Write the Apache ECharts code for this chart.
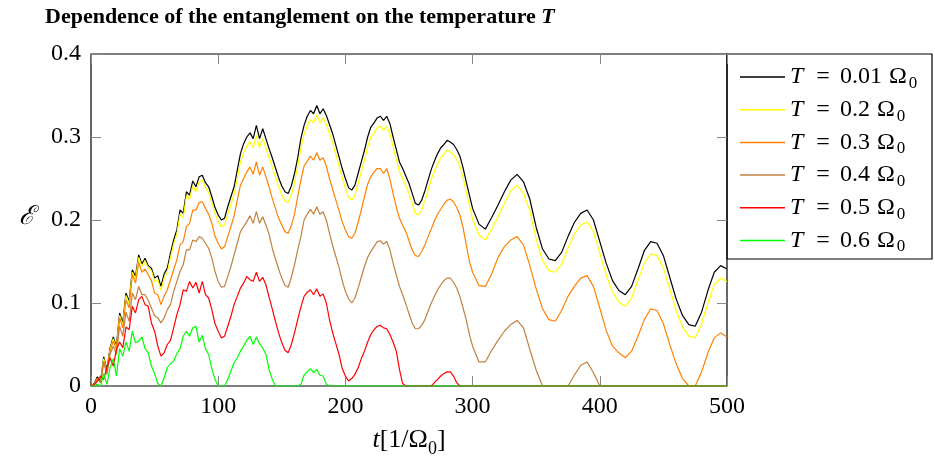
<!DOCTYPE html>
<html><head><meta charset="utf-8">
<script src="https://cdn.jsdelivr.net/npm/echarts@6/dist/echarts.min.js"></script>
<style>html,body{margin:0;padding:0;background:#fff}#c{width:935px;height:463px}</style>
</head><body><div id="c"></div>
<script>
// time grid t [1/Omega0]
const tValues = [0,2.5,5,7.5,10,12.5,15,17.5,20,22.5,25,27.5,30,32.5,35,37.5,40,42.5,45,47.5,50,52.5,55,57.5,60,62.5,65,67.5,70,72.5,75,77.5,80,82.5,85,87.5,90,92.5,95,97.5,100,102.5,105,107.5,110,112.5,115,117.5,120,122.5,125,127.5,130,132.5,135,137.5,140,142.5,145,147.5,150,152.5,155,157.5,160,162.5,165,167.5,170,172.5,175,177.5,180,182.5,185,187.5,190,192.5,195,197.5,200,202.5,205,207.5,210,212.5,215,217.5,220,222.5,225,227.5,230,232.5,235,237.5,240,242.5,245,247.5,250,252.5,255,257.5,260,262.5,265,267.5,270,272.5,275,277.5,280,282.5,285,287.5,290,292.5,295,297.5,300,305,310,315,320,325,330,335,340,345,350,355,360,365,370,375,380,385,390,395,400,405,410,415,420,425,430,435,440,445,450,455,460,465,470,475,480,485,490,495,500];

const eT001 = [0,0.003,0.011,0.005,0.035,0.020,0.046,0.059,0.048,0.088,
0.076,0.112,0.102,0.140,0.132,0.158,0.147,0.154,0.145,0.142,
0.130,0.133,0.120,0.135,0.142,0.160,0.176,0.188,0.212,0.208,
0.234,0.230,0.247,0.240,0.252,0.254,0.245,0.240,0.228,0.215,
0.206,0.200,0.202,0.216,0.228,0.240,0.260,0.280,0.292,0.300,
0.305,0.298,0.314,0.298,0.310,0.298,0.286,0.275,0.263,0.251,
0.241,0.234,0.232,0.241,0.256,0.275,0.298,0.314,0.325,0.332,
0.328,0.338,0.328,0.334,0.326,0.315,0.304,0.290,0.276,0.262,
0.250,0.239,0.236,0.242,0.256,0.270,0.284,0.300,0.312,0.317,
0.323,0.325,0.320,0.325,0.316,0.300,0.285,0.270,0.262,0.253,
0.244,0.232,0.220,0.218,0.224,0.235,0.248,0.261,0.271,0.280,
0.287,0.291,0.296,0.294,0.291,0.285,0.277,0.263,0.246,0.230,
0.214,
0.195,0.189,0.203,0.218,0.234,0.248,0.255,0.246,0.225,0.191,
0.165,0.153,0.151,0.161,0.180,0.197,0.208,0.212,0.200,0.174,
0.148,0.127,0.115,0.110,0.120,0.141,0.163,0.174,0.172,0.157,
0.131,0.105,0.085,0.074,0.072,0.089,0.115,0.137,0.145,0.141];

const eT02 = [0,0.002,0.009,0.003,0.033,0.018,0.044,0.057,0.045,0.085,
0.073,0.109,0.099,0.137,0.129,0.155,0.144,0.151,0.142,0.139,
0.126,0.128,0.115,0.130,0.137,0.155,0.171,0.183,0.207,0.203,
0.229,0.225,0.241,0.234,0.246,0.248,0.239,0.233,0.221,0.208,
0.198,0.192,0.194,0.207,0.219,0.231,0.250,0.270,0.281,0.289,
0.294,0.287,0.302,0.287,0.298,0.287,0.275,0.264,0.252,0.240,
0.230,0.223,0.221,0.230,0.245,0.264,0.287,0.303,0.314,0.321,
0.317,0.327,0.317,0.323,0.315,0.304,0.293,0.279,0.265,0.251,
0.238,0.227,0.224,0.230,0.244,0.258,0.272,0.288,0.300,0.305,
0.311,0.313,0.308,0.313,0.304,0.288,0.273,0.258,0.250,0.241,
0.232,0.220,0.208,0.206,0.212,0.223,0.236,0.249,0.259,0.268,
0.275,0.279,0.284,0.282,0.279,0.273,0.265,0.251,0.234,0.218,
0.201,
0.182,0.176,0.189,0.204,0.220,0.235,0.242,0.232,0.211,0.177,
0.151,0.139,0.137,0.147,0.166,0.183,0.194,0.198,0.186,0.160,
0.134,0.113,0.101,0.096,0.106,0.127,0.148,0.159,0.157,0.142,
0.117,0.091,0.071,0.060,0.058,0.075,0.100,0.122,0.130,0.126];

const eT03 = [0,0.002,0.009,0.004,0.030,0.017,0.042,0.054,0.044,0.082,
0.070,0.104,0.094,0.134,0.124,0.149,0.137,0.141,0.134,0.127,
0.112,0.110,0.098,0.108,0.116,0.128,0.140,0.152,0.170,0.174,
0.192,0.196,0.212,0.212,0.221,0.222,0.214,0.207,0.196,0.180,
0.172,0.165,0.168,0.180,0.192,0.205,0.224,0.242,0.250,0.258,
0.264,0.255,0.270,0.254,0.264,0.252,0.240,0.226,0.214,0.202,
0.194,0.186,0.184,0.193,0.207,0.228,0.248,0.265,0.271,0.277,
0.272,0.281,0.272,0.275,0.265,0.250,0.237,0.224,0.211,0.198,
0.188,0.180,0.178,0.184,0.197,0.212,0.228,0.243,0.252,0.258,
0.262,0.262,0.256,0.262,0.249,0.232,0.216,0.202,0.194,0.186,
0.175,0.164,0.157,0.156,0.162,0.170,0.180,0.189,0.199,0.207,
0.213,0.219,0.224,0.225,0.222,0.215,0.206,0.191,0.170,0.150,
0.137,
0.121,0.120,0.135,0.155,0.168,0.176,0.180,0.170,0.145,0.117,
0.093,0.080,0.078,0.091,0.108,0.120,0.130,0.133,0.120,0.094,
0.067,0.048,0.040,0.034,0.042,0.060,0.080,0.093,0.091,0.075,
0.050,0.027,0.009,0,0,0.017,0.040,0.058,0.064,0.059];

const eT04 = [0,0.002,0.008,0.004,0.028,0.014,0.038,0.048,0.038,0.072,
0.060,0.089,0.078,0.112,0.104,0.120,0.110,0.110,0.103,0.094,
0.085,0.082,0.076,0.082,0.092,0.098,0.114,0.126,0.138,0.146,
0.164,0.164,0.176,0.174,0.180,0.178,0.172,0.166,0.154,0.138,
0.126,0.119,0.120,0.132,0.144,0.158,0.172,0.186,0.192,0.198,
0.205,0.196,0.210,0.196,0.204,0.194,0.183,0.166,0.153,0.141,
0.130,0.121,0.119,0.131,0.146,0.164,0.180,0.200,0.207,0.213,
0.207,0.216,0.207,0.210,0.200,0.184,0.169,0.156,0.143,0.127,
0.114,0.105,0.100,0.106,0.118,0.131,0.144,0.155,0.162,0.168,
0.174,0.175,0.171,0.174,0.164,0.148,0.134,0.120,0.110,0.099,
0.087,0.076,0.069,0.069,0.073,0.080,0.090,0.100,0.108,0.116,
0.122,0.127,0.130,0.130,0.125,0.118,0.108,0.094,0.080,0.062,
0.048,
0.029,0.029,0.043,0.055,0.066,0.074,0.079,0.070,0.044,0.019,
0,0,0,0,0,0.013,0.025,0.029,0.016,0,
0,0,0,0,0,0,0,0,0,0,
0,0,0,0,0,0,0,0,0,0];

const eT05 = [0,0.001,0.006,0.012,0.008,0.022,0.034,0.024,0.044,0.053,
0.046,0.071,0.068,0.096,0.088,0.104,0.108,0.098,0.096,0.076,
0.066,0.048,0.036,0.040,0.050,0.055,0.070,0.086,0.098,0.116,
0.114,0.126,0.118,0.125,0.112,0.126,0.110,0.106,0.092,0.075,
0.066,0.058,0.060,0.072,0.084,0.098,0.108,0.118,0.124,0.132,
0.128,0.126,0.137,0.126,0.131,0.122,0.107,0.093,0.078,0.064,
0.052,0.043,0.040,0.050,0.064,0.080,0.095,0.108,0.113,0.116,
0.110,0.117,0.108,0.111,0.100,0.080,0.064,0.051,0.038,0.021,
0.012,0.006,0.009,0.014,0.022,0.033,0.042,0.053,0.062,0.068,
0.072,0.073,0.070,0.069,0.062,0.053,0.042,0.020,0.003,0,
0,0,0,0,0,0,0,0,0.004,0.008,
0.012,0.015,0.017,0.017,0.012,0.004,0,0,0,0,
0,
0,0,0,0,0,0,0,0,0,0,
0,0,0,0,0,0,0,0,0,0,
0,0,0,0,0,0,0,0,0,0,
0,0,0,0,0,0,0,0,0,0];

const eT06 = [0,0,0.002,0,0.015,0.002,0.022,0.033,0.012,0.045,
0.036,0.053,0.042,0.066,0.052,0.054,0.059,0.045,0.040,0.024,
0.015,0.003,0,0.010,0.022,0.027,0.030,0.039,0.045,0.060,
0.066,0.060,0.070,0.072,0.053,0.061,0.045,0.038,0.021,0.008,
0,0,0,0.008,0.018,0.028,0.034,0.042,0.048,0.055,
0.060,0.050,0.059,0.051,0.046,0.038,0.020,0.008,0,0,
0,0,0,0,0,0,0.002,0.013,0.017,0.021,
0.016,0.020,0.013,0.012,0.002,0,0,0,0,0,
0,0,0,0,0,0,0,0,0,0,
0,0,0,0,0,0,0,0,0,0,
0,0,0,0,0,0,0,0,0,0,
0,0,0,0,0,0,0,0,0,0,
0,
0,0,0,0,0,0,0,0,0,0,
0,0,0,0,0,0,0,0,0,0,
0,0,0,0,0,0,0,0,0,0,
0,0,0,0,0,0,0,0,0,0];

const tempLabels = ['0.01','0.2','0.3','0.4','0.5','0.6'];
const seriesValues = [eT001, eT02, eT03, eT04, eT05, eT06];
const seriesColors = ['#000000','#ffff00','#ff8000','#bf8040','#ff0000','#00ff00'];
const xTicks = [0,100,200,300,400,500];
const yTicks = [0,0.1,0.2,0.3,0.4];

const FONT = "'Liberation Serif', 'DejaVu Serif', serif";
const chart = echarts.init(document.getElementById('c'), null, {renderer:'canvas'});

const series = tempLabels.map((lab, k) => ({
  name: lab,
  type: 'line',
  xAxisIndex: 0, yAxisIndex: 0,
  data: tValues.map((t, i) => [t, seriesValues[k][i]]),
  showSymbol: false, symbol: 'none',
  smooth: false,
  lineStyle: {color: seriesColors[k], width: 1.2},
  itemStyle: {color: seriesColors[k]},
  animation: false,
  clip: true
}));

function tickStyle() {
  return {show: true, inside: true, length: 10, lineStyle: {color: '#888', width: 1}};
}

chart.setOption({
  animation: false,
  backgroundColor: '#fff',
  title: {
    text: '{b|Dependence of the entanglement on the temperature }{i|T}',
    left: 40, top: 1,
    textStyle: {
      rich: {
        b: {fontFamily: FONT, fontWeight: 'bold', fontSize: 22, color: '#000'},
        i: {fontFamily: FONT, fontStyle: 'italic', fontSize: 22, color: '#000'}
      }
    }
  },
  grid: {left: 91, right: 208, top: 54, bottom: 77, show: true, borderColor: '#000', borderWidth: 1.2, backgroundColor: 'transparent', containLabel: false},
  xAxis: [{
    type: 'value', min: 0, max: 500, interval: 100, position: 'bottom',
    axisLine: {show: false, onZero: false}, axisTick: tickStyle(), splitLine: {show: false},
    axisLabel: {inside: false, fontFamily: FONT, fontSize: 24, color: '#000', margin: 9,
      formatter: v => xTicks.includes(v) ? String(v) : ''}
  }, {
    type: 'value', min: 0, max: 500, interval: 100, position: 'top',
    axisLine: {show: false, onZero: false}, axisTick: tickStyle(), splitLine: {show: false},
    axisLabel: {show: false}
  }],
  yAxis: [{
    type: 'value', min: 0, max: 0.4, interval: 0.1, position: 'left',
    axisLine: {show: false, onZero: false}, axisTick: tickStyle(), splitLine: {show: false},
    axisLabel: {inside: false, fontFamily: FONT, fontSize: 24, color: '#000', margin: 10,
      formatter: v => { const m = yTicks.find(y => Math.abs(y - v) < 1e-9); return m === 0 ? '0' : m.toFixed(1); }}
  }, {
    type: 'value', min: 0, max: 0.4, interval: 0.1, position: 'right',
    axisLine: {show: false, onZero: false}, axisTick: tickStyle(), splitLine: {show: false},
    axisLabel: {show: false}
  }],
  legend: {
    orient: 'vertical', left: 735, top: 57,
    icon: 'rect', itemWidth: 45, itemHeight: 1.5, itemGap: 2.7,
    selectedMode: false,
    data: tempLabels,
    formatter: name => '{i|T}{e|=}{n|' + name + '}{o|Ω}{s|0}',
    textStyle: {
      color: '#000', fontFamily: FONT, fontSize: 24, lineHeight: 30,
      rich: {
        i: {fontFamily: FONT, fontStyle: 'italic', fontSize: 24, lineHeight: 30},
        e: {fontFamily: FONT, fontSize: 24, lineHeight: 30, padding: [0, 10, 0, 13]},
        n: {fontFamily: FONT, fontSize: 24, lineHeight: 30},
        o: {fontFamily: FONT, fontSize: 24, lineHeight: 30, padding: [0, 0, 0, 7]},
        s: {fontFamily: FONT, fontSize: 17, lineHeight: 30, verticalAlign: 'bottom', padding: [0, 0, 0, 2]}
      }
    }
  },
  graphic: [
    {type: 'rect', shape: {x: 727, y: 54, width: 205, height: 205}, style: {fill: '#fff', stroke: '#000', lineWidth: 1.2}, z: -1, silent: true},
    {type: 'text', x: 409, y: 440, silent: true,
      style: {text: '{i|t}{n|[1/Ω}{s|0}{n|]}', align: 'center', verticalAlign: 'middle',
        rich: {
          i: {fontFamily: FONT, fontStyle: 'italic', fontSize: 26, lineHeight: 30},
          n: {fontFamily: FONT, fontSize: 26, lineHeight: 30},
          s: {fontFamily: FONT, fontSize: 18, lineHeight: 36, verticalAlign: 'bottom'}
        }}},
    {type: 'text', x: 27, y: 217, silent: true,
      style: {text: 'ℰ', font: "italic 26px 'DejaVu Serif', serif", fill: '#000', align: 'center', verticalAlign: 'middle'}}
  ],
  series: series
});
</script>
</body></html>
